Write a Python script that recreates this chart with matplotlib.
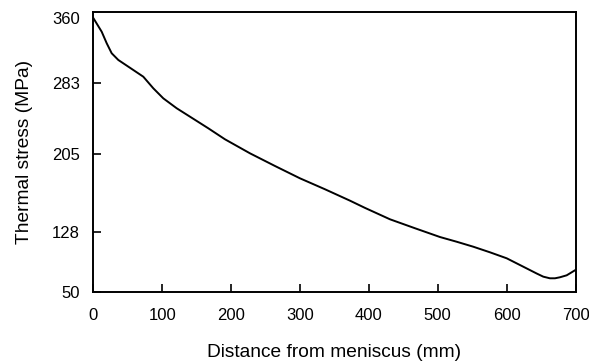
import matplotlib
matplotlib.use("Agg")
import matplotlib.pyplot as plt

plt.rcParams['font.family'] = ['Liberation Sans', 'DejaVu Sans']

distance_mm = [0, 12.2, 19.5, 26.7, 36.3, 58.1, 72.6, 87.1, 101.6, 121.1, 140.4,
               166.9, 191.2, 227.5, 263.8, 300.0, 336.3, 372.6, 394.4, 430.7,
               467.0, 503.3, 527.5, 551.6, 575.9, 600.1, 624.2, 643.6, 653.2,
               662.8, 670.2, 677.3, 687.2, 700]
stress_mpa = [353.4, 338.2, 325.4, 314.4, 307.0, 295.9, 288.5, 275.7, 264.6, 253.6,
              244.3, 231.5, 219.3, 203.8, 189.8, 176.2, 164.1, 151.5, 143.5, 130.9,
              121.0, 111.3, 106.1, 100.6, 94.4, 87.8, 78.5, 71.0, 67.5,
              65.7, 65.7, 66.8, 69.0, 74.9]

x_ticks = [0, 100, 200, 300, 400, 500, 600, 700]
y_tick_pos = [50, 117, 203, 281, 353.4]
y_tick_labels = ['50', '128', '205', '283', '360']

fig = plt.figure(figsize=(5.89, 3.62), dpi=100)
ax = fig.add_axes([0.1584, 0.192, 0.8187, 0.7748])

ax.plot(distance_mm, stress_mpa, color='black', linewidth=1.4,
        solid_joinstyle='round', solid_capstyle='round')

ax.set_xlim(0, 700)
ax.set_ylim(50, 360)
ax.set_xticks(x_ticks)
ax.set_xticklabels([str(v) for v in x_ticks])
ax.set_yticks(y_tick_pos)
ax.set_yticklabels(y_tick_labels)

ax.tick_params(axis='x', direction='in', length=6, width=1.2, pad=11.5,
               labelsize=12, top=False, bottom=True)
ax.tick_params(axis='y', direction='in', length=6, width=1.2, pad=9.5,
               labelsize=12, left=True, right=False)
ax.yaxis.get_major_ticks()[-1].tick1line.set_visible(False)
for s in ax.spines.values():
    s.set_linewidth(1.4)

ax.set_xlabel('Distance from meniscus (mm)', fontsize=13.75)
ax.set_ylabel('Thermal stress (MPa)', fontsize=13.75)
ax.xaxis.set_label_coords(0.5, -0.185)
ax.yaxis.set_label_coords(-0.125, 0.5)

fig.savefig('out.png', dpi=100)
